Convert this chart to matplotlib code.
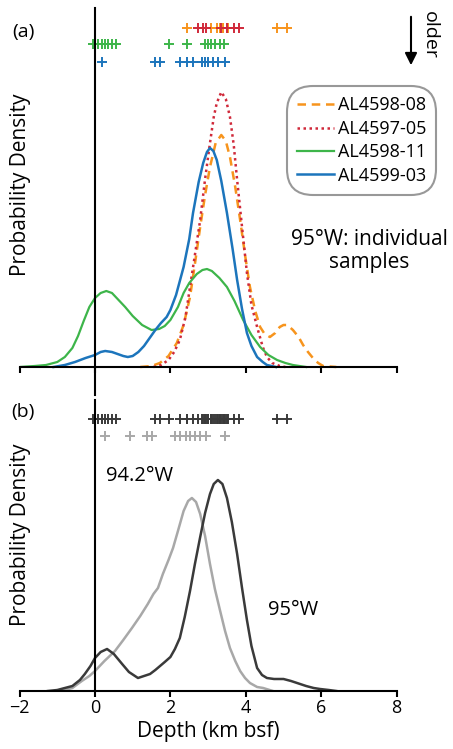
import matplotlib
matplotlib.use('Agg')
import matplotlib.pyplot as plt
import numpy as np

plt.rcParams['font.family'] = ['Open Sans', 'DejaVu Sans']

W, H = 453, 749

# sample depths (km bsf) shown as + marks
al4598_08_pts = [2.43, 3.09, 3.23, 3.32, 3.40, 3.54, 4.82, 5.08]
al4597_05_pts = [2.74, 2.86, 2.94, 3.35, 3.49, 3.69, 3.83]
al4598_11_pts = [-0.04, 0.09, 0.18, 0.27, 0.35, 0.44, 0.56, 1.95, 2.43, 2.92, 3.0, 3.09, 3.18, 3.32, 3.42]
al4599_03_pts = [0.18, 1.59, 1.72, 2.25, 2.43, 2.61, 2.83, 2.92, 3.0, 3.14, 3.27, 3.45]
w942_pts = [0.27, 0.93, 1.37, 1.5, 2.12, 2.25, 2.41, 2.52, 2.65, 2.79, 2.94, 3.45]

# density curves (arbitrary units)
al4598_08_x = [1.2, 1.5, 1.72, 1.95, 2.17, 2.35, 2.52, 2.65, 2.79, 2.92, 3.05, 3.2, 3.35, 3.47, 3.58, 3.72, 3.85, 3.98,
               4.11, 4.25, 4.38, 4.5, 4.64, 4.78, 4.9, 5.0, 5.1, 5.25, 5.4, 5.52, 5.65, 5.78, 5.92, 6.05, 6.4]
al4598_08_y = [0, 1, 4, 11, 24, 42, 70, 103, 140, 172, 200, 224, 232, 226, 210, 180, 147, 112,
               80, 56, 40, 33, 30, 34, 40, 42, 42, 37, 30, 22, 15, 9, 4, 1, 0]

al4597_05_x = [1.55, 1.75, 1.95, 2.1, 2.25, 2.4, 2.52, 2.65, 2.79, 2.92, 3.05, 3.15, 3.23, 3.35, 3.47, 3.58, 3.68, 3.77,
               3.9, 4.03, 4.15, 4.3, 4.45, 4.56, 4.7, 4.9, 5.05]
al4597_05_y = [0, 2, 7, 15, 27, 50, 80, 112, 147, 188, 224, 250, 264, 275, 268, 250, 222, 187,
               140, 94, 62, 40, 20, 10, 4, 1, 0]

al4598_11_x = [-2.0, -1.6, -1.3, -1.0, -0.8, -0.6, -0.45, -0.3, -0.15, 0.0, 0.15, 0.3, 0.45, 0.6, 0.8, 1.0, 1.25, 1.5,
               1.7, 1.85, 2.0, 2.2, 2.35, 2.5, 2.7, 2.85, 2.97, 3.1, 3.3, 3.5, 3.7, 3.93, 4.15, 4.38, 4.6, 4.83,
               5.05, 5.25, 5.6]
al4598_11_y = [0, 1, 2, 5, 10, 19, 31, 46, 60, 69, 74, 76, 74, 68, 60, 51, 42, 37,
               38, 41, 47, 60, 74, 84, 93, 97, 98, 96, 89, 80, 66, 47, 32, 20, 12, 7,
               4, 2, 0]

al4599_03_x = [-1.1, -0.8, -0.53, -0.25, 0.0, 0.15, 0.27, 0.45, 0.6, 0.75, 0.87, 1.0, 1.15, 1.3, 1.45, 1.6, 1.75, 1.9,
               2.0, 2.15, 2.35, 2.5, 2.6, 2.75, 2.87, 2.97, 3.05, 3.14, 3.23, 3.35, 3.5, 3.65, 3.77, 3.9, 4.03,
               4.15, 4.3, 4.45, 4.56, 4.8]
al4599_03_y = [0, 2, 5, 9, 12, 15, 16, 15, 13, 11, 10, 11, 15, 21, 29, 37, 44, 50,
               57, 72, 100, 128, 154, 185, 204, 215, 219, 216, 207, 186, 154, 118, 87, 58, 34,
               21, 10, 5, 2, 0]

w95_x = [-1.25, -1.0, -0.8, -0.6, -0.4, -0.27, -0.12, 0.0, 0.15, 0.32, 0.5, 0.72, 0.9, 1.14, 1.46, 1.6, 1.85, 2.0,
         2.12, 2.25, 2.38, 2.52, 2.65, 2.79, 2.92, 3.05, 3.15, 3.26, 3.38, 3.5, 3.63, 3.77, 3.9, 4.03, 4.15,
         4.3, 4.43, 4.56, 4.75, 4.9, 5.0, 5.2, 5.36, 5.6, 5.8, 5.97, 6.2, 6.4]
w95_y = [0, 1, 3, 5, 11, 17, 25, 33, 39, 42, 37, 27, 19, 13, 17, 21, 29, 34,
         42, 53, 74, 100, 127, 154, 178, 197, 207, 211, 207, 193, 169, 137, 103, 71, 45,
         23, 16, 13, 12, 12, 12, 10, 8, 5, 3, 2, 1, 0]

w942_x = [-0.9, -0.6, -0.35, -0.15, 0.0, 0.25, 0.53, 0.75, 0.98, 1.2, 1.4, 1.55, 1.67, 1.8, 1.95, 2.07, 2.2, 2.35,
          2.47, 2.57, 2.68, 2.79, 2.92, 3.05, 3.18, 3.32, 3.45, 3.58, 3.72, 3.85, 3.98, 4.11, 4.3, 4.46, 4.72]
w942_y = [0, 3, 10, 15, 20, 30, 40, 51, 63, 75, 87, 97, 103, 117, 131, 143, 160, 180,
          190, 193, 189, 177, 155, 127, 102, 80, 60, 43, 30, 20, 13, 8, 4, 3, 0]

c_orange = '#F7941D'
c_red = '#D0293A'
c_green = '#3DB54A'
c_blue = '#1C75BC'
c_dark = '#3A3A3A'
c_light = '#A8A8A8'


def fx(px):
    return px / W


def fy(py):
    return 1 - py / H


def style_axes(ax, labels):
    ax.set_xlim(-2, 8)
    for s in ['top', 'right']:
        ax.spines[s].set_visible(False)
    ax.spines['left'].set_position(('data', 0))
    ax.spines['bottom'].set_position(('data', 0))
    ax.spines['left'].set_linewidth(1.5)
    ax.spines['bottom'].set_linewidth(1.5)
    ax.set_yticks([])
    ax.set_xticks([-2, 0, 2, 4, 6, 8])
    ax.tick_params(axis='x', direction='out', length=4, width=1.5, labelsize=13, pad=2)
    if not labels:
        ax.set_xticklabels([])
    ax.patch.set_alpha(0)


fig = plt.figure(figsize=(W / 100, H / 100), dpi=100)

x0, x1 = 19.6, 396.6
ax1 = fig.add_axes([fx(x0), fy(395), fx(x1 - x0), (395 - 8) / H])
ax2 = fig.add_axes([fx(x0), fy(691), fx(x1 - x0), (691 - 400) / H])

# panel (a)
ax1.plot(al4598_08_x, al4598_08_y, color=c_orange, lw=1.8, ls=(0, (3.4, 2.3)), label='AL4598-08')
ax1.plot(al4597_05_x, al4597_05_y, color=c_red, lw=1.8, ls=(0, (1, 1.4)), label='AL4597-05')
ax1.plot(al4598_11_x, al4598_11_y, color=c_green, lw=1.6, label='AL4598-11')
ax1.plot(al4599_03_x, al4599_03_y, color=c_blue, lw=1.8, label='AL4599-03')
ax1.set_ylim(-28, 359)
style_axes(ax1, False)

mk = dict(marker='+', ls='none', ms=6.5, mew=1.4, clip_on=False)
ax1.plot(al4598_08_pts, [339] * len(al4598_08_pts), color=c_orange, **mk)
ax1.plot(al4597_05_pts, [339] * len(al4597_05_pts), color=c_red, **mk)
ax1.plot(al4598_11_pts, [323] * len(al4598_11_pts), color=c_green, **mk)
ax1.plot(al4599_03_pts, [305] * len(al4599_03_pts), color=c_blue, **mk)

leg = ax1.legend(loc='upper left', bbox_to_anchor=(fx(292), fy(91)), bbox_transform=fig.transFigure,
                 fontsize=13, handlelength=2.0, handletextpad=0.25, labelspacing=0.3,
                 borderpad=0.3, borderaxespad=0, frameon=True, fancybox=True)
frame = leg.get_frame()
frame.set_edgecolor('#7F7F7F')
frame.set_linewidth(1.5)
frame.set_boxstyle('round,pad=0.25,rounding_size=1.4')

fig.text(fx(369), fy(251), '95°W: individual\nsamples', ha='center', va='center', fontsize=15,
         linespacing=1.15)
fig.text(fx(23), fy(32), '(a)', ha='center', va='center', fontsize=14)
fig.text(fx(21), fy(185), 'Probability Density', rotation=90, ha='center', va='center', fontsize=15)
fig.text(fx(430), fy(35), 'older', rotation=-90, ha='center', va='center', fontsize=14)
fig.add_artist(matplotlib.patches.FancyArrowPatch((fx(411), fy(14)), (fx(411), fy(68)),
                                                  transform=fig.transFigure, arrowstyle='-|>',
                                                  mutation_scale=18, color='black', lw=1.5))

# panel (b)
ax2.plot(w942_x, w942_y, color=c_light, lw=1.8)
ax2.plot(w95_x, w95_y, color=c_dark, lw=1.8)
ax2.set_ylim(0, 291)
style_axes(ax2, True)
ax2.set_xlabel('Depth (km bsf)', fontsize=15, labelpad=3)

all_pts = al4598_08_pts + al4597_05_pts + al4598_11_pts + al4599_03_pts
ax2.plot(all_pts, [272] * len(all_pts), color=c_dark, **mk)
ax2.plot(w942_pts, [255] * len(w942_pts), color=c_light, **mk)

fig.text(fx(140), fy(476), '94.2°W', ha='center', va='center', fontsize=14.5)
fig.text(fx(293), fy(610), '95°W', ha='center', va='center', fontsize=14.5)
fig.text(fx(23), fy(412), '(b)', ha='center', va='center', fontsize=14)
fig.text(fx(21), fy(535), 'Probability Density', rotation=90, ha='center', va='center', fontsize=15)

fig.savefig('out.png', dpi=100)
